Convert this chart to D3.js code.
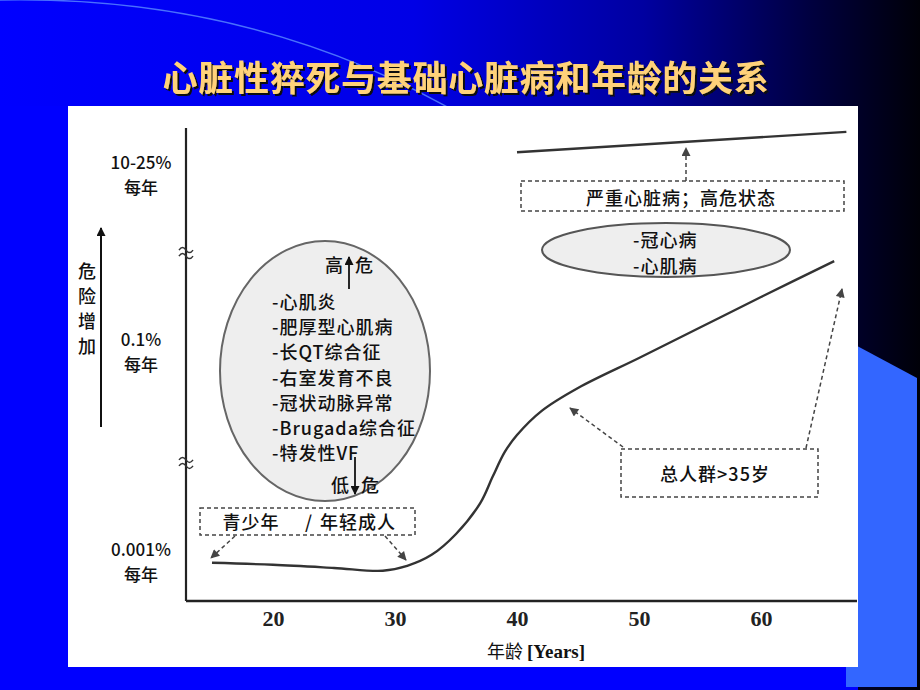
<!DOCTYPE html>
<html>
<head>
<meta charset="utf-8">
<script src="https://cdn.jsdelivr.net/npm/d3@7"></script>
<style>
  html, body { margin: 0; padding: 0; background: #0000ff; }
  svg { display: block; }
</style>
</head>
<body>
<div id="chart"></div>
<script>
// total population curve (age, annual risk in %)
var ages = [15, 20, 25, 29, 31, 33, 35, 37, 38, 39, 40, 42, 45, 50, 55, 60, 66];
var riskAll = [0.00094, 0.00090, 0.00084, 0.00079, 0.00088, 0.00112, 0.00177, 0.0035, 0.0062, 0.0107, 0.0155, 0.0262, 0.0435, 0.084, 0.189, 0.448, 1.24];

// severe heart disease line
var severeAges = [40, 67];
var severeRisk = [27, 48];

var xTicks = [20, 30, 40, 50, 60];
var yLevels = [0.001, 0.1, 15];
var yLabels = ["0.001%", "0.1%", "10-25%"];
var yBreaks = [0.0086, 1.6];

var circleItems = ["-心肌炎", "-肥厚型心肌病", "-长QT综合征", "-右室发育不良", "-冠状动脉异常", "-Brugada综合征", "-特发性VF"];
var ellipseItems = ["-冠心病", "-心肌病"];
var sideLabel = ["危", "险", "增", "加"];

var W = 920, H = 690;
var CJK = '"Noto Sans CJK SC", "Noto Sans", sans-serif';
var SERIF = '"Liberation Serif", "Times New Roman", serif';

var svg = d3.select("#chart").append("svg")
    .attr("width", W)
    .attr("height", H);

var defs = svg.append("defs");

var grad = defs.append("linearGradient")
    .attr("id", "bg")
    .attr("gradientUnits", "userSpaceOnUse")
    .attr("x1", 0).attr("y1", 0).attr("x2", W).attr("y2", 0);
[[0, "#0000ff"], [0.45, "#0000e6"], [0.7, "#0000a0"], [0.88, "#000040"], [1, "#000008"]].forEach(function(s) {
  grad.append("stop").attr("offset", s[0]).attr("stop-color", s[1]);
});

defs.append("filter")
    .attr("id", "shadow")
    .attr("x", "-5%").attr("y", "-20%").attr("width", "110%").attr("height", "140%")
  .append("feDropShadow")
    .attr("dx", 2).attr("dy", 2)
    .attr("stdDeviation", 0.3)
    .attr("flood-color", "#111")
    .attr("flood-opacity", 1);

function marker(id, color) {
  defs.append("marker")
      .attr("id", id)
      .attr("viewBox", "0 0 10 10")
      .attr("refX", 9).attr("refY", 5)
      .attr("markerWidth", 11).attr("markerHeight", 9)
      .attr("markerUnits", "userSpaceOnUse")
      .attr("orient", "auto")
    .append("path")
      .attr("d", "M0,0 L10,5 L0,10 Z")
      .attr("fill", color);
}
marker("head", "#444");
marker("headDark", "#111");

// slide background
svg.append("rect").attr("width", W).attr("height", H).attr("fill", "#0000ff");
svg.append("path")
    .attr("d", "M0,0 H920 V690 H858 V106 H0 Z")
    .attr("fill", "url(#bg)");
svg.append("path")
    .attr("d", "M0,0 Q260,-5 470,120")
    .attr("fill", "none")
    .attr("stroke", "#5b8cff")
    .attr("stroke-width", 1.5)
    .attr("opacity", 0.8);
svg.append("path")
    .attr("d", "M846,340 L917,378 L917,687 L846,687 Z")
    .attr("fill", "#3366ff");

// title
svg.append("text")
    .attr("x", 466).attr("y", 75)
    .attr("text-anchor", "middle")
    .attr("dominant-baseline", "central")
    .attr("filter", "url(#shadow)")
    .style("font-family", CJK).style("font-weight", 700)
    .style("font-size", "35px").style("letter-spacing", "0.7px")
    .attr("fill", "#ffd27a")
    .text("心脏性猝死与基础心脏病和年龄的关系");

// white panel
svg.append("rect")
    .attr("x", 68).attr("y", 106)
    .attr("width", 790).attr("height", 561)
    .attr("fill", "#fff");

// scales
var x = d3.scaleLinear().domain([20, 60]).range([273, 761]);
var y = d3.scaleLog().domain(yLevels).range([560, 350, 173]);

var g = svg.append("g");

// axes lines
var axisX0 = 186, axisY0 = 601;
g.append("line")
    .attr("x1", axisX0).attr("x2", axisX0)
    .attr("y1", 128).attr("y2", axisY0)
    .attr("stroke", "#222").attr("stroke-width", 2.2);
g.append("line")
    .attr("x1", axisX0).attr("x2", 857)
    .attr("y1", axisY0).attr("y2", axisY0)
    .attr("stroke", "#222").attr("stroke-width", 2.6);

// axis breaks
g.selectAll(".brk")
    .data(yBreaks)
  .enter().append("path")
    .attr("class", "brk")
    .attr("d", function(d) {
      var yy = y(d), p = "";
      [-3, 3].forEach(function(o) {
        p += "M" + (axisX0 - 7) + "," + (yy + o + 1) + " q3.5,-5 7,0 t7,0 ";
      });
      return p;
    })
    .attr("fill", "none")
    .attr("stroke", "#333")
    .attr("stroke-width", 1.5);

// x axis ticks
var xAxis = g.append("g")
    .attr("transform", "translate(0," + axisY0 + ")")
    .call(d3.axisBottom(x).tickValues(xTicks).tickSize(0).tickPadding(9));
xAxis.select(".domain").remove();
xAxis.selectAll("text")
    .style("font-family", SERIF)
    .style("font-weight", 700)
    .style("font-size", "22px")
    .attr("fill", "#222");

// x axis title
var xt = g.append("text")
    .attr("x", 536).attr("y", 658)
    .attr("text-anchor", "middle")
    .attr("fill", "#111");
xt.append("tspan").style("font-family", CJK).style("font-size", "18px").text("年龄 ");
xt.append("tspan").style("font-family", SERIF).style("font-weight", 700).style("font-size", "19px").text("[Years]");

// y level labels
var yl = g.selectAll(".ylab")
    .data(yLevels)
  .enter().append("g")
    .attr("class", "ylab")
    .attr("transform", function(d) { return "translate(141," + y(d) + ")"; });
yl.append("text")
    .attr("y", -12)
    .attr("text-anchor", "middle")
    .attr("dominant-baseline", "central")
    .style("font-family", CJK).style("font-size", "17px").style("font-weight", 500)
    .attr("fill", "#111")
    .text(function(d, i) { return yLabels[i]; });
yl.append("text")
    .attr("y", 13)
    .attr("text-anchor", "middle")
    .attr("dominant-baseline", "central")
    .style("font-family", CJK).style("font-size", "17px").style("font-weight", 500)
    .attr("fill", "#111")
    .text("每年");

// rising risk arrow
g.append("line")
    .attr("x1", 101).attr("x2", 101)
    .attr("y1", 427).attr("y2", 228)
    .attr("stroke", "#111").attr("stroke-width", 2)
    .attr("marker-end", "url(#headDark)");
g.selectAll(".side")
    .data(sideLabel)
  .enter().append("text")
    .attr("class", "side")
    .attr("x", 87)
    .attr("y", function(d, i) { return 270 + i * 25; })
    .attr("text-anchor", "middle")
    .attr("dominant-baseline", "central")
    .style("font-family", CJK).style("font-size", "18px").style("font-weight", 500)
    .attr("fill", "#111")
    .text(function(d) { return d; });

// curves
var line = d3.line()
    .x(function(d) { return x(d[0]); })
    .y(function(d) { return y(d[1]); })
    .curve(d3.curveCatmullRom.alpha(0.5));

g.append("path")
    .datum(d3.zip(ages, riskAll))
    .attr("d", line)
    .attr("fill", "none")
    .attr("stroke", "#333")
    .attr("stroke-width", 2.4);

g.append("path")
    .datum(d3.zip(severeAges, severeRisk))
    .attr("d", line)
    .attr("fill", "none")
    .attr("stroke", "#333")
    .attr("stroke-width", 2.4);

// big ellipse with list
g.append("ellipse")
    .attr("cx", 325).attr("cy", 371)
    .attr("rx", 105).attr("ry", 130)
    .attr("fill", "#eeeeee")
    .attr("stroke", "#666")
    .attr("stroke-width", 2);

g.selectAll(".item")
    .data(circleItems)
  .enter().append("text")
    .attr("class", "item")
    .attr("x", 272)
    .attr("y", function(d, i) { return 301 + i * 25.2; })
    .attr("dominant-baseline", "central")
    .style("font-family", CJK).style("font-size", "18px").style("font-weight", 500)
    .style("letter-spacing", "1px")
    .attr("fill", "#111")
    .text(function(d) { return d; });

function riskWord(txt, cx, cy, up) {
  g.append("text").attr("x", cx - 15).attr("y", cy)
      .attr("text-anchor", "middle").attr("dominant-baseline", "central")
      .style("font-family", CJK).style("font-size", "18px").style("font-weight", 500)
      .attr("fill", "#111").text(txt);
  g.append("text").attr("x", cx + 15).attr("y", cy)
      .attr("text-anchor", "middle").attr("dominant-baseline", "central")
      .style("font-family", CJK).style("font-size", "18px").style("font-weight", 500)
      .attr("fill", "#111").text("危");
  g.append("line")
      .attr("x1", cx).attr("x2", cx)
      .attr("y1", up ? cy + 25 : cy - 27)
      .attr("y2", up ? cy - 7 : cy + 10)
      .attr("stroke", "#111").attr("stroke-width", 1.8)
      .attr("marker-end", "url(#headDark)");
}
riskWord("高", 349, 264, true);
riskWord("低", 355, 484, false);

// small ellipse
g.append("ellipse")
    .attr("cx", 666).attr("cy", 250)
    .attr("rx", 124).attr("ry", 27)
    .attr("fill", "#eeeeee")
    .attr("stroke", "#555")
    .attr("stroke-width", 2);
g.selectAll(".eitem")
    .data(ellipseItems)
  .enter().append("text")
    .attr("class", "eitem")
    .attr("x", 633)
    .attr("y", function(d, i) { return 239 + i * 26; })
    .attr("dominant-baseline", "central")
    .style("font-family", CJK).style("font-size", "18px").style("font-weight", 500)
    .style("letter-spacing", "1px")
    .attr("fill", "#111")
    .text(function(d) { return d; });

// dashed boxes
function dashBox(x0, y0, w, h) {
  g.append("rect")
      .attr("x", x0).attr("y", y0)
      .attr("width", w).attr("height", h)
      .attr("fill", "none")
      .attr("stroke", "#444")
      .attr("stroke-width", 1.5)
      .attr("stroke-dasharray", "4,3");
}
function dashArrow(x1, y1, x2, y2) {
  g.append("line")
      .attr("x1", x1).attr("y1", y1)
      .attr("x2", x2).attr("y2", y2)
      .attr("stroke", "#444")
      .attr("stroke-width", 1.5)
      .attr("stroke-dasharray", "4,3")
      .attr("marker-end", "url(#head)");
}
function label(txt, cx, cy) {
  g.append("text")
      .attr("x", cx).attr("y", cy)
      .attr("text-anchor", "middle").attr("dominant-baseline", "central")
      .style("font-family", CJK).style("font-size", "18px").style("font-weight", 500)
      .style("letter-spacing", "1px")
      .attr("fill", "#111")
      .text(txt);
}

dashBox(521, 181, 323, 30);
label("严重心脏病；高危状态", 681, 197);
dashArrow(686, 181, 686, 148);

dashBox(200, 508, 215, 27);
label("青少年", 251, 521);
label("/", 309, 521);
label("年轻成人", 358, 521);
dashArrow(235, 536, 211, 558);
dashArrow(385, 536, 406, 560);

dashBox(621, 449, 197, 48);
label("总人群>35岁", 715, 473);
dashArrow(623, 447, 570, 408);
dashArrow(806, 448, 842, 289);
</script>
</body>
</html>
